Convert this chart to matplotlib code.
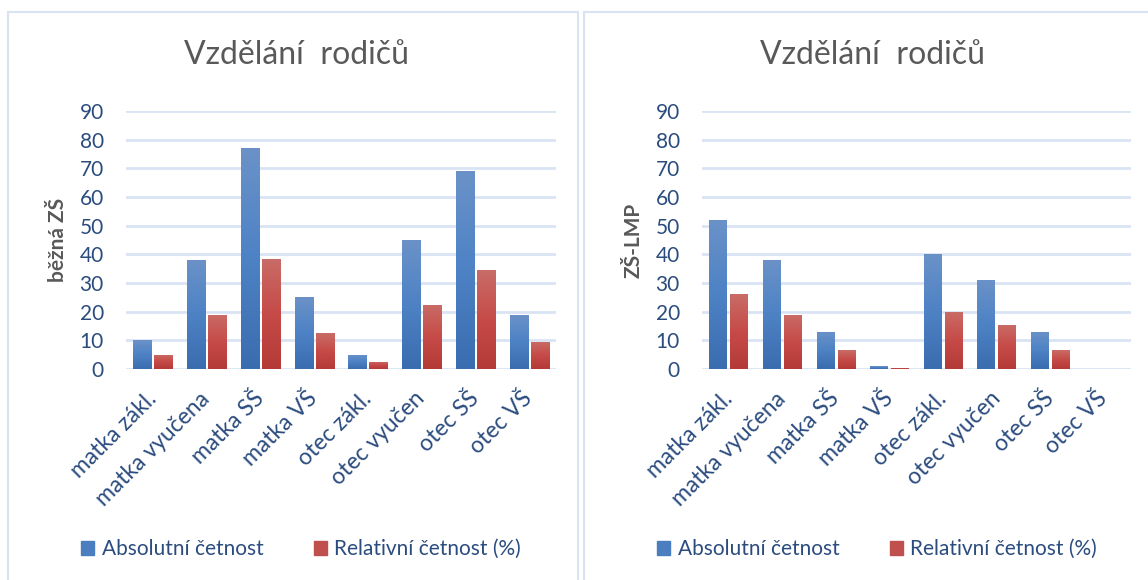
import numpy as np
import matplotlib
matplotlib.use("Agg")
import matplotlib.pyplot as plt
from matplotlib.patches import Rectangle
from matplotlib.colors import LinearSegmentedColormap

plt.rcParams['font.family'] = ['Lato', 'DejaVu Sans']

# data
categories = ['matka zákl.', 'matka vyučena', 'matka SŠ', 'matka VŠ',
              'otec zákl.', 'otec vyučen', 'otec SŠ', 'otec VŠ']
abs_bezna = [10, 38, 77, 25, 5, 45, 69, 19]
rel_bezna = [5, 19, 38.5, 12.5, 2.5, 22.5, 34.5, 9.5]
abs_lmp = [52, 38, 13, 1, 40, 31, 13, 0]
rel_lmp = [26, 19, 6.5, 0.5, 20, 15.5, 6.5, 0]
title = 'Vzdělání  rodičů'
ylabels = ['běžná ZŠ', 'ZŠ-LMP']
series_names = ['Absolutní četnost', 'Relativní četnost (%)']

TICK_COLOR = '#2B4C7E'
GRID_COLOR = '#D9E3F3'
TITLE_COLOR = '#595959'
BLUE = '#4A7EC1'
RED = '#C0504D'

blue_cmap = LinearSegmentedColormap.from_list('b', ['#3A6DB0', '#4D82C5', '#6B92C8'])
red_cmap = LinearSegmentedColormap.from_list('r', ['#B43A38', '#C64B48', '#C96C67'])
grad = np.linspace(0, 1, 256).reshape(-1, 1)

W, H = 1148, 580
fig = plt.figure(figsize=(W / 100, H / 100), dpi=100)

# panel borders
fig.add_artist(Rectangle((8 / W, -0.1), 570 / W, 1.1 - 12 / H, transform=fig.transFigure,
                         fill=False, edgecolor=GRID_COLOR, linewidth=1.5))
fig.add_artist(Rectangle((584 / W, -0.1), 0.6, 1.1 - 12 / H, transform=fig.transFigure,
                         fill=False, edgecolor=GRID_COLOR, linewidth=1.5))


def gradient_bars(ax, bars, cmap):
    for b in bars:
        b.set_facecolor('none')
        b.set_edgecolor('none')
        x0, y0 = b.get_x(), b.get_y()
        w, h = b.get_width(), b.get_height()
        if h <= 0:
            continue
        im = ax.imshow(grad, cmap=cmap, extent=[x0, x0 + w, y0, y0 + h],
                       origin='lower', aspect='auto', zorder=3)
        im.set_clip_path(b)


def draw_panel(ax, abs_vals, rel_vals, ylabel):
    x = np.arange(len(categories))
    bw = 0.335
    off = 0.195
    b1 = ax.bar(x - off, abs_vals, bw, zorder=3)
    b2 = ax.bar(x + off, rel_vals, bw, zorder=3)
    gradient_bars(ax, b1, blue_cmap)
    gradient_bars(ax, b2, red_cmap)
    ax.set_xlim(-0.5, len(categories) - 0.5)
    ax.set_ylim(0, 90)
    ax.set_yticks(range(0, 91, 10))
    ax.yaxis.grid(True, color=GRID_COLOR, linewidth=2)
    ax.set_axisbelow(True)
    for s in ax.spines.values():
        s.set_visible(False)
    ax.set_xticks(x)
    ax.set_xticklabels(categories, rotation=45, ha='right', va='center',
                       rotation_mode='anchor')
    ax.tick_params(axis='y', length=0, pad=16, labelsize=15, labelcolor=TICK_COLOR)
    ax.tick_params(axis='x', length=0, pad=19, labelsize=16.5, labelcolor=TICK_COLOR)
    ax.set_ylabel(ylabel, fontsize=15, fontweight='bold', color=TITLE_COLOR)
    ax.yaxis.set_label_coords(-0.135, 0.5)
    return b1, b2


ax1 = fig.add_axes([126 / W, 1 - 369 / H, 430 / W, 258 / H])
ax2 = fig.add_axes([702 / W, 1 - 369 / H, 429 / W, 258 / H])
draw_panel(ax1, abs_bezna, rel_bezna, ylabels[0])
draw_panel(ax2, abs_lmp, rel_lmp, ylabels[1])

for tx in (297, 873):
    fig.text(tx / W, 1 - 55 / H, title, fontsize=23, color=TITLE_COLOR,
             ha='center', va='center')

for ax, cx in [(ax1, 301 / W), (ax2, 877 / W)]:
    handles = [Rectangle((0, 0), 1, 1, color=BLUE), Rectangle((0, 0), 1, 1, color=RED)]
    ax.legend(handles, series_names, loc='center', bbox_to_anchor=(cx, 1 - 549 / H),
              bbox_transform=fig.transFigure, ncol=2, frameon=False, fontsize=15,
              handlelength=0.65, handleheight=0.65, handletextpad=0.35,
              columnspacing=2.4, labelcolor=TICK_COLOR)

fig.savefig('out.png', dpi=100)
